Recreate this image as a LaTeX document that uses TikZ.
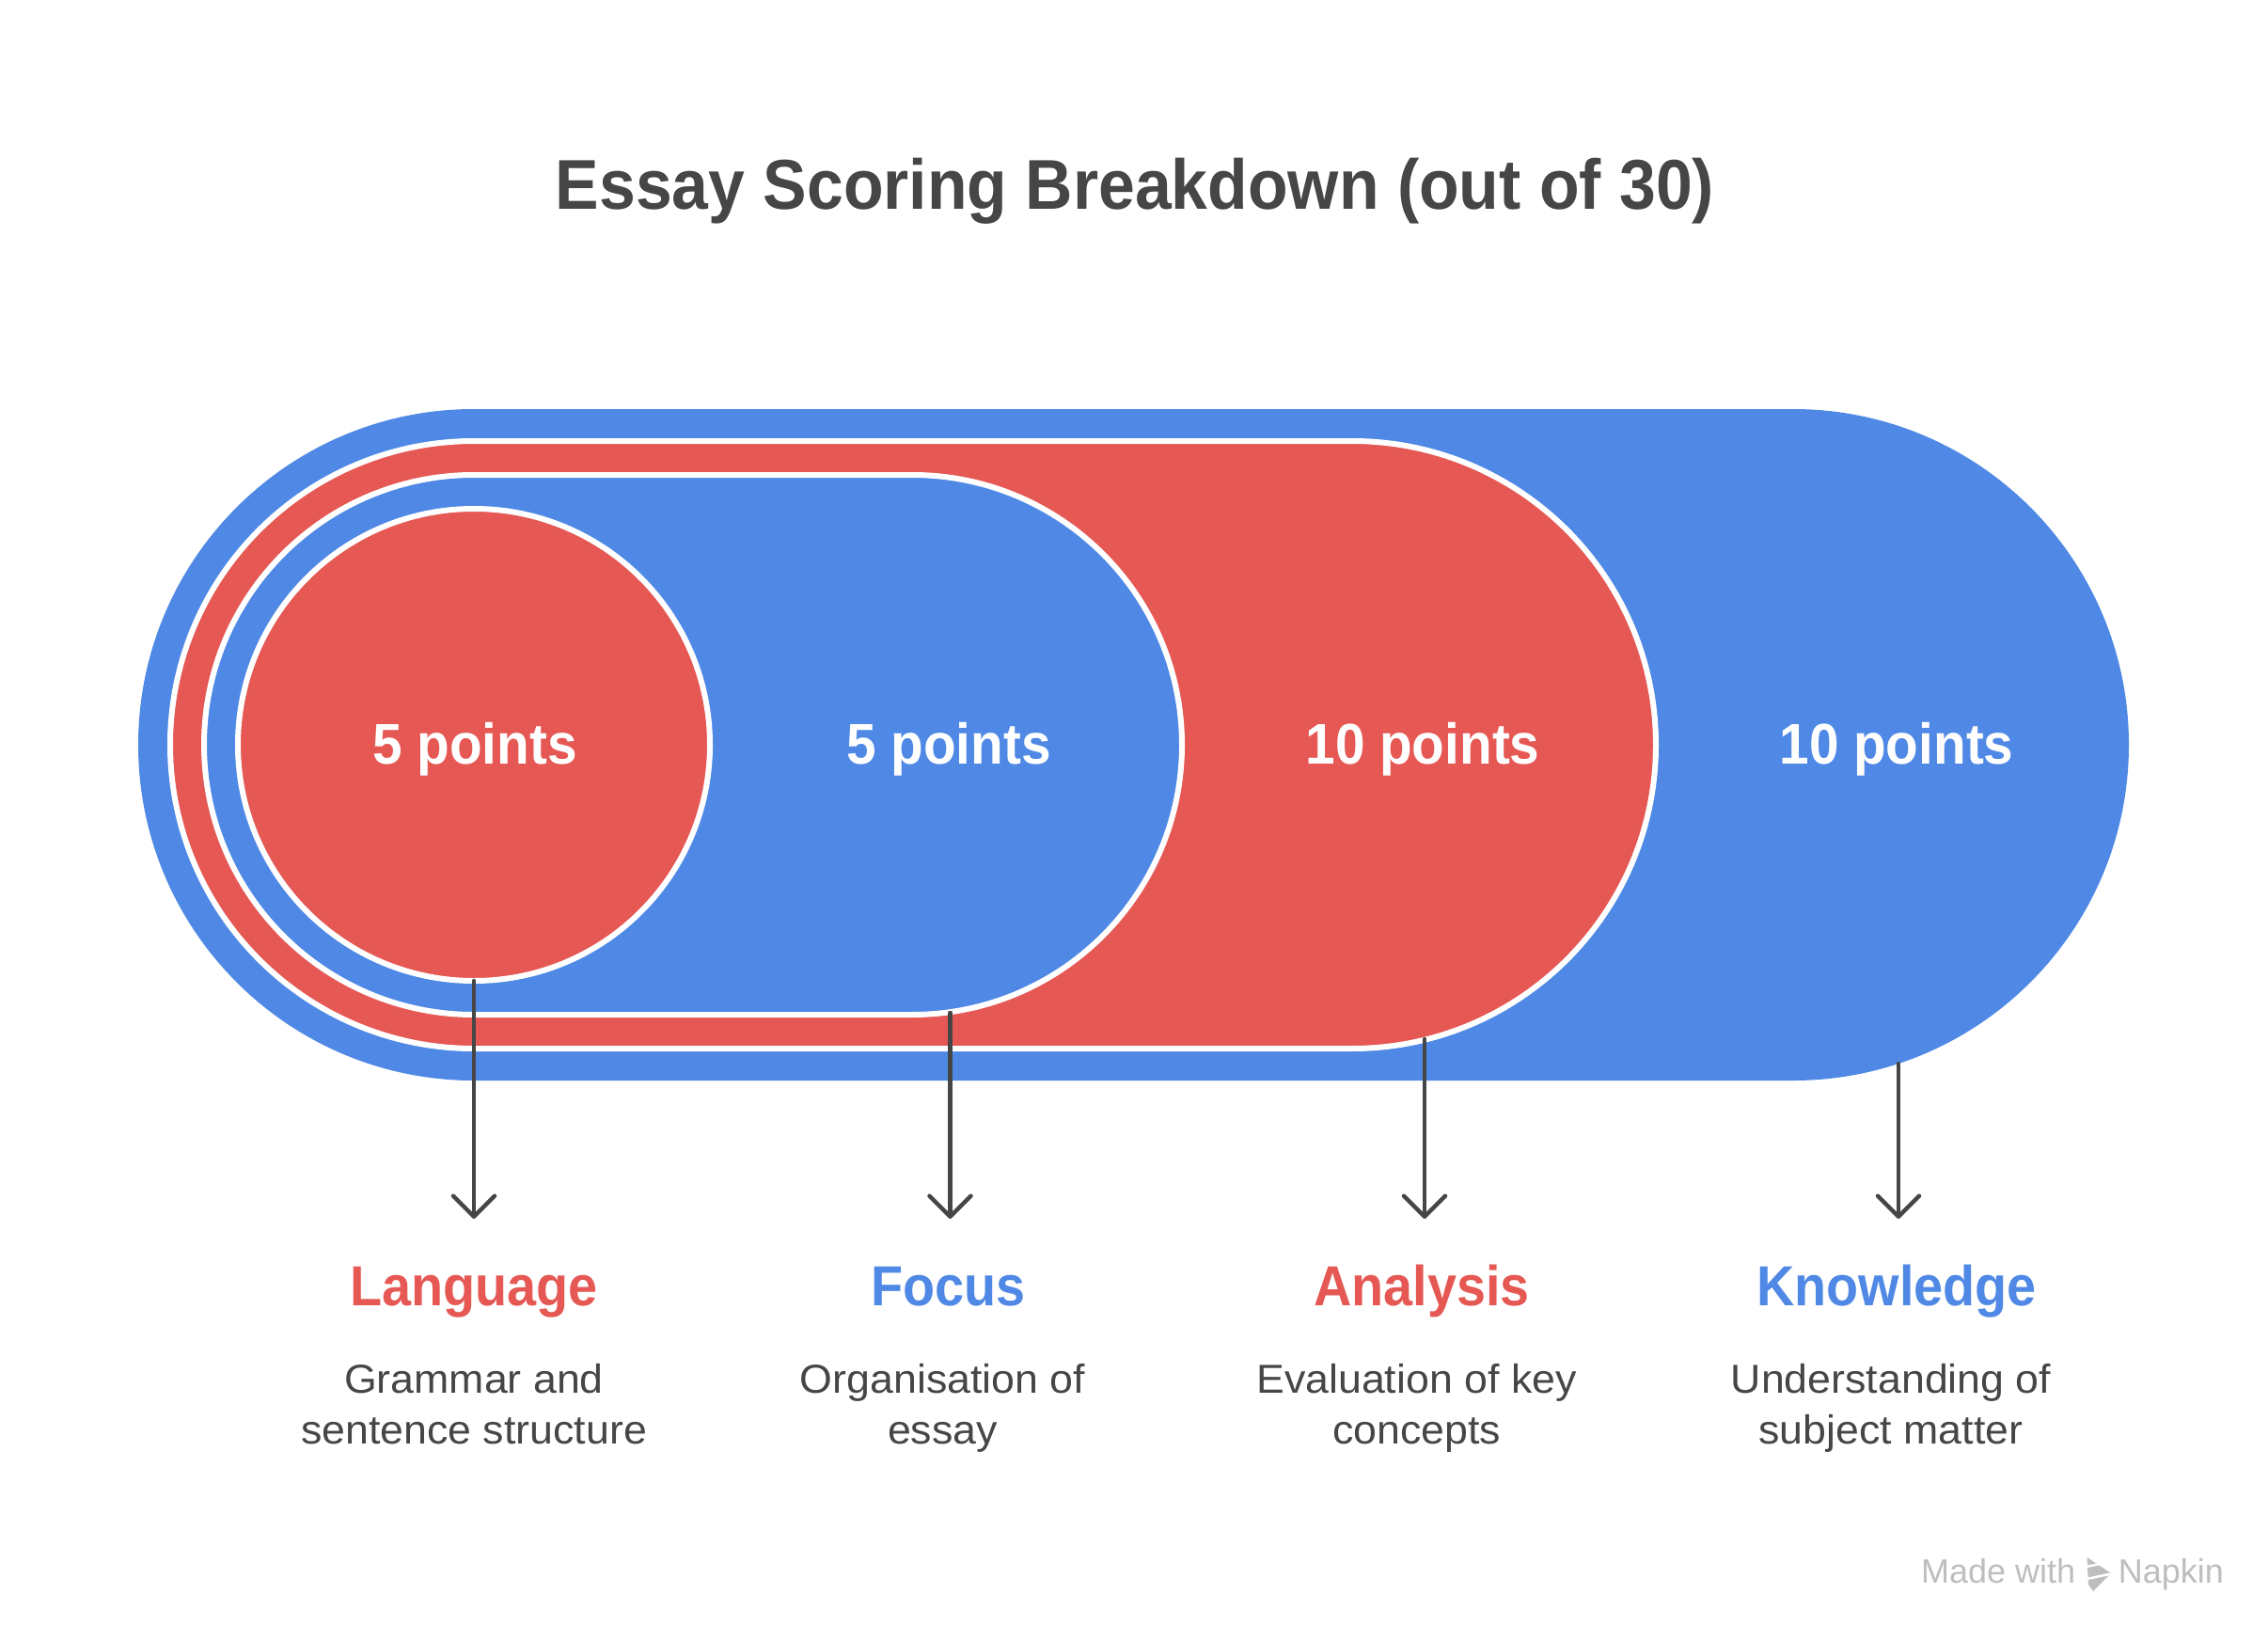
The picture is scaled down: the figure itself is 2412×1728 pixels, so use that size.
\documentclass[tikz,border=0pt]{standalone}
\usepackage{fontspec}
\setmainfont{Liberation Sans}
\newfontfamily\boldfam{Liberation Sans}[FakeStretch=0.93]
\newfontfamily\regfam{Liberation Sans}[FakeStretch=1.04]
\usetikzlibrary{arrows.meta,shapes.misc}
\definecolor{nblue}{RGB}{79,137,229}
\definecolor{nred}{RGB}{229,88,84}
\definecolor{ntext}{RGB}{70,70,70}
\definecolor{nmark}{RGB}{190,190,190}
\begin{document}
\begin{tikzpicture}[x=1pt,y=-1pt,
  pill/.style={rounded rectangle, inner sep=0pt, outer sep=0pt},
  ring/.style={draw=white, line width=6pt},
  ttl/.style={font=\boldfam\fontsize{75}{90}\selectfont\bfseries, text=ntext, anchor=base, inner sep=0pt},
  pts/.style={font=\boldfam\fontsize{61}{72}\selectfont\bfseries, text=white, anchor=base, inner sep=0pt},
  lab/.style={font=\boldfam\fontsize{60}{70}\selectfont\bfseries, anchor=base, inner sep=0pt},
  desc/.style={font=\regfam\fontsize{43}{52}\selectfont, text=ntext, anchor=base, inner sep=0pt},
  arr/.style={draw=ntext, line width=4.5pt, line cap=round, -{Straight Barb[length=22pt,width=44pt,round]}},
  wmark/.style={font=\fontsize{36}{40}\selectfont, text=nmark, inner sep=0pt}]
\useasboundingbox[fill=white] (0,0) rectangle (2412,1728);

% title
\node[ttl] (title) at (1207,223) {Essay Scoring Breakdown (out of 30)};

% nested pills
\node[pill, fill=nblue, minimum width=2117pt, minimum height=714pt] (p4) at (1205.5,792) {};
\node[pill, fill=nred, ring, minimum width=1580pt, minimum height=646pt] (p3) at (971,792) {};
\node[pill, fill=nblue, ring, minimum width=1040pt, minimum height=574pt] (p2) at (737,792) {};
\node[circle, fill=nred, ring, inner sep=0pt, minimum size=502pt] (p1) at (504,792) {};

% points
\node[pts] (t1) at (505,812) {5 points};
\node[pts] (t2) at (1009,812) {5 points};
\node[pts] (t3) at (1513,812) {10 points};
\node[pts] (t4) at (2017,812) {10 points};

% arrow anchors
\coordinate (s1) at (504,1043);
\coordinate (s2) at (1010.5,1077);
\coordinate (s3) at (1515,1105);
\coordinate (s4) at (2019,1131);
\coordinate (e1) at (504,1296);
\coordinate (e2) at (1010.5,1296);
\coordinate (e3) at (1515,1296);
\coordinate (e4) at (2019,1296);
\draw[arr] (s1) -- (e1);
\draw[arr] (s2) -- (e2);
\draw[arr] (s3) -- (e3);
\draw[arr] (s4) -- (e4);

% labels
\node[lab, text=nred] (l1) at (504,1388) {Language};
\node[lab, text=nblue] (l2) at (1008.5,1388) {Focus};
\node[lab, text=nred] (l3) at (1512,1388) {Analysis};
\node[lab, text=nblue] (l4) at (2017,1388) {Knowledge};

% descriptions
\node[desc] (d1a) at (504,1481) {Grammar and};
\node[desc] (d1b) at (504,1535) {sentence structure};
\node[desc] (d2a) at (1002.5,1481) {Organisation of};
\node[desc] (d2b) at (1002.5,1535) {essay};
\node[desc] (d3a) at (1506.5,1481) {Evaluation of key};
\node[desc] (d3b) at (1506.5,1535) {concepts};
\node[desc] (d4a) at (2011,1481) {Understanding of};
\node[desc] (d4b) at (2011,1535) {subject matter};

% watermark
\node[wmark, anchor=base west] (m1) at (2043,1683) {Made with};
\node[wmark, anchor=base east] (m2) at (2365,1683) {Napkin};
\fill[nmark] (2219.5,1656) -- (2245,1673) -- (2226,1692) -- (2221,1685) -- cycle;
\draw[white, line width=2.5pt] (2214,1667) -- (2248,1660);
\draw[white, line width=2.5pt] (2214,1680) -- (2248,1673);
\end{tikzpicture}
\end{document}
